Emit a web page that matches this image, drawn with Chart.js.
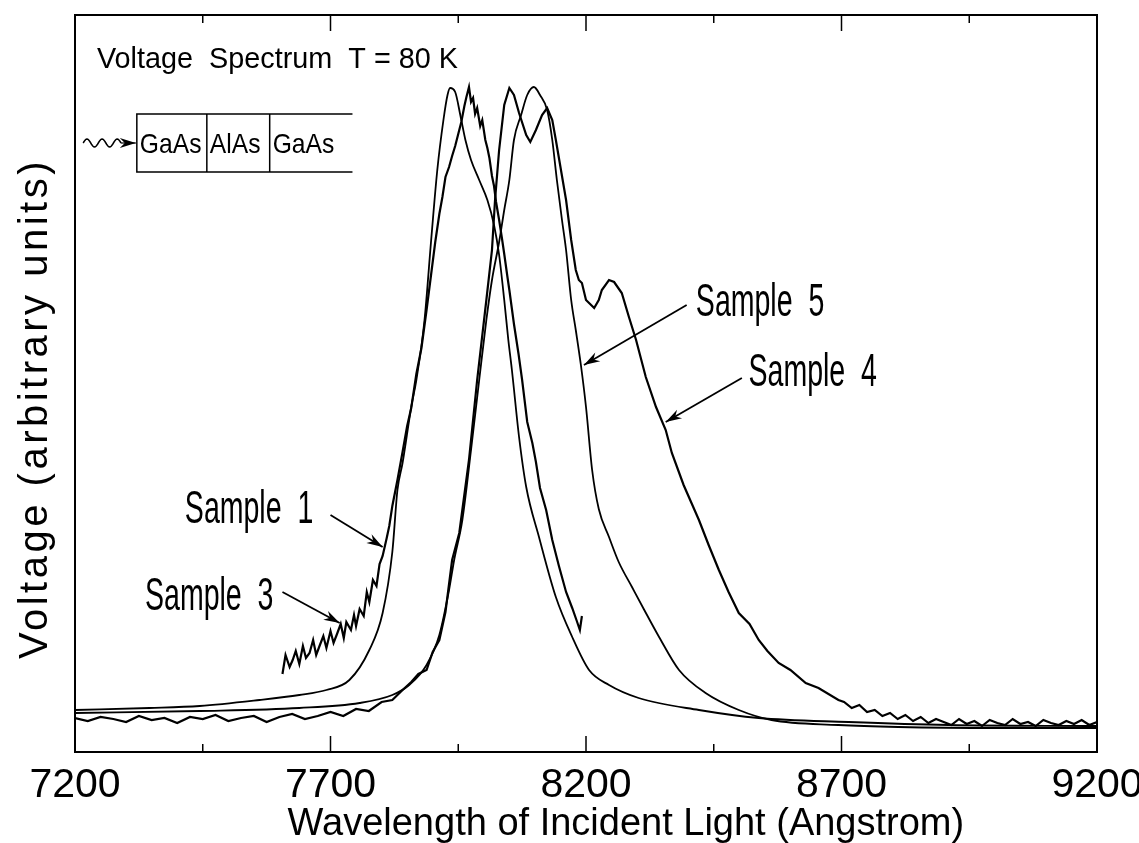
<!DOCTYPE html>
<html lang="en">
<head>
<meta charset="UTF-8">
<title>Voltage Spectrum T = 80 K</title>
<script src="https://cdn.jsdelivr.net/npm/chart.js"></script>
<style>
  html, body { margin: 0; padding: 0; background: #fff; }
</style>
</head>
<body>
<canvas id="spectrum" width="1139" height="843"></canvas>
<script>
// wavelength in Angstrom, voltage in arbitrary units (0 = bottom axis)
const sample1Wl = [
  7200, 7346, 7444, 7561, 7639, 7692, 7737, 7776, 7802, 7821,
  7831, 7841, 7858, 7868, 7884, 7897, 7909, 7921, 7929, 7934,
  7944, 7954, 7964, 7975, 7991, 8007, 8020, 8030, 8040, 8048,
  8055, 8069, 8083, 8108, 8141, 8173, 8206, 8245, 8303, 8421,
  8538, 8714, 8909, 9200];
const sample1V = [
  42, 44, 46, 52, 57, 62, 72, 102, 139, 200,
  262, 289, 345, 372, 432, 512, 582, 632, 657, 664,
  660, 637, 612, 592, 572, 552, 527, 497, 452, 412,
  382, 315, 265, 215, 155, 115, 82, 67, 54, 42,
  34, 30, 27, 26];

const sample3Wl = [
  7606, 7612, 7620, 7626, 7632, 7639, 7646, 7652, 7659, 7666,
  7672, 7680, 7686, 7692, 7700, 7706, 7712, 7720, 7726, 7731,
  7740, 7746, 7750, 7757, 7765, 7771, 7776, 7783, 7790, 7796,
  7802, 7810, 7815, 7821, 7831, 7841, 7850, 7858, 7868, 7878,
  7888, 7897, 7905, 7913, 7919, 7925, 7932, 7938, 7944, 7950,
  7956, 7962, 7966, 7971, 7975, 7979, 7983, 7987, 7993, 7997,
  8003, 8007, 8011, 8016, 8020, 8024, 8030, 8036, 8040, 8046,
  8050, 8059, 8068, 8075, 8085, 8095, 8102, 8110, 8122, 8134,
  8147, 8161, 8173, 8182, 8188, 8192];
const sample3V = [
  78, 97, 85, 92, 101, 88, 106, 94, 99, 112,
  97, 108, 116, 104, 121, 109, 117, 128, 114, 130,
  122, 137, 126, 143, 136, 160, 150, 172, 166, 188,
  196, 214, 226, 246, 272, 300, 326, 344, 378, 404,
  442, 478, 510, 538, 555, 575, 585, 596, 606, 618,
  630, 646, 655, 665, 650, 654, 638, 644, 626, 632,
  612, 604, 594, 576, 566, 550, 532, 512, 498, 476,
  462, 428, 398, 372, 330, 309, 290, 264, 242, 212,
  186, 160, 144, 131, 122, 136];

const sample4Wl = [
  7200, 7225, 7250, 7275, 7300, 7325, 7350, 7375, 7400, 7425,
  7450, 7475, 7500, 7525, 7550, 7575, 7600, 7625, 7650, 7675,
  7700, 7725, 7750, 7775, 7800, 7821, 7841, 7858, 7872, 7888,
  7900, 7913, 7925, 7938, 7952, 7971, 7987, 8005, 8016, 8022,
  8030, 8040, 8050, 8059, 8069, 8083, 8091, 8102, 8114, 8124,
  8134, 8141, 8151, 8161, 8171, 8180, 8186, 8192, 8200, 8206,
  8216, 8225, 8231, 8245, 8255, 8270, 8284, 8298, 8317, 8337,
  8356, 8368, 8391, 8421, 8440, 8460, 8479, 8499, 8520, 8538,
  8555, 8577, 8600, 8630, 8655, 8694, 8705, 8720, 8735, 8750,
  8765, 8780, 8795, 8810, 8825, 8840, 8855, 8870, 8885, 8900,
  8915, 8930, 8945, 8960, 8975, 8990, 9005, 9020, 9035, 9050,
  9065, 9080, 9095, 9110, 9125, 9140, 9155, 9170, 9185, 9200];
const sample4V = [
  34, 31, 35, 33, 30, 36, 32, 34, 29, 35,
  33, 37, 31, 34, 36, 30, 35, 38, 33, 36,
  40, 36, 43, 41, 50, 52, 62, 70, 78, 82,
  100, 112, 140, 192, 219, 292, 372, 452, 502, 552,
  602, 647, 664, 657, 639, 617, 610, 622, 637, 644,
  632, 612, 582, 552, 512, 482, 472, 469, 452, 449,
  444, 452, 462, 472, 470, 459, 435, 412, 375, 345,
  322, 299, 267, 232, 207, 182, 160, 139, 128, 112,
  101, 89, 82, 69, 64, 52, 50, 44, 47, 40,
  42, 36, 39, 33, 37, 31, 35, 29, 33, 30,
  27, 33, 28, 31, 26, 32, 29, 27, 33, 28,
  30, 26, 32, 29, 27, 31, 28, 32, 27, 30];

const sample5Wl = [
  7200, 7444, 7639, 7757, 7821, 7854, 7888, 7913, 7932, 7942,
  7958, 7975, 7991, 8005, 8016, 8030, 8040, 8050, 8059, 8073,
  8085, 8098, 8110, 8124, 8134, 8143, 8153, 8161, 8171, 8180,
  8190, 8200, 8212, 8225, 8245, 8264, 8290, 8313, 8343, 8382,
  8434, 8499, 8563, 8694, 8811, 9007, 9200];
const sample5V = [
  39, 41, 44, 49, 57, 67, 87, 117, 162, 192,
  232, 302, 372, 432, 472, 510, 542, 572, 612, 637,
  657, 665, 657, 642, 612, 572, 532, 502, 452, 422,
  387, 345, 282, 243, 215, 190, 165, 143, 115, 82,
  59, 42, 32, 27, 25, 24, 24];

const xTickValues = [7200, 7450, 7700, 7950, 8200, 8450, 8700, 8950, 9200];
const xTickLabels = ['7200', '', '7700', '', '8200', '', '8700', '', '9200'];

const FONT = "'Liberation Sans', Arial, sans-serif";

function points(xs, ys) {
  return xs.map((x, i) => ({ x: x, y: ys[i] }));
}

function arrow(ctx, x1, y1, x2, y2) {
  const a = Math.atan2(y2 - y1, x2 - x1);
  const c = Math.cos(a), s = Math.sin(a);
  ctx.beginPath();
  ctx.moveTo(x1, y1);
  ctx.lineTo(x2, y2);
  ctx.stroke();
  ctx.beginPath();
  ctx.moveTo(x2, y2);
  ctx.lineTo(x2 - 16 * c + 5 * s, y2 - 16 * s - 5 * c);
  ctx.lineTo(x2 - 11 * c, y2 - 11 * s);
  ctx.lineTo(x2 - 16 * c - 5 * s, y2 - 16 * s + 5 * c);
  ctx.closePath();
  ctx.fill();
}

function text(ctx, str, x, y, size, squeeze, spacing) {
  ctx.save();
  ctx.translate(x, y);
  ctx.scale(squeeze, 1);
  ctx.font = size + 'px ' + FONT;
  ctx.letterSpacing = spacing + 'px';
  ctx.textBaseline = 'alphabetic';
  ctx.fillText(str, 0, 0);
  ctx.restore();
}

// labels and arrows, placed in data units
const sampleNames = ['Sample  1', 'Sample  3', 'Sample  4', 'Sample  5'];
const nameAt = [[7415, 229], [7337, 142], [8518, 366], [8415, 436]];
const arrowFrom = [[7700, 237], [7606, 160], [8505, 374], [8397, 447]];
const arrowTo = [[7802, 205], [7718, 129], [8356, 330], [8196, 387]];
const layers = ['GaAs', 'AlAs', 'GaAs'];
const layerEdges = [7321, 7458, 7581, 7743];

const frame = {
  id: 'frame',
  afterDatasetsDraw(chart) {
    const { ctx, chartArea: a, scales: { x, y } } = chart;
    ctx.save();
    ctx.strokeStyle = '#000';
    ctx.fillStyle = '#000';
    ctx.lineWidth = 2;
    ctx.strokeRect(a.left, a.top, a.right - a.left, a.bottom - a.top);

    ctx.lineWidth = 1.5;
    xTickValues.forEach((v, i) => {
      const px = x.getPixelForValue(v);
      const len = xTickLabels[i] ? 16 : 8;
      ctx.beginPath();
      ctx.moveTo(px, a.bottom); ctx.lineTo(px, a.bottom - len);
      ctx.moveTo(px, a.top); ctx.lineTo(px, a.top + len);
      ctx.stroke();
    });

    // heading
    text(ctx, 'Voltage  Spectrum  T = 80 K', x.getPixelForValue(7243), y.getPixelForValue(684), 30, 0.96, 0);

    // GaAs / AlAs / GaAs stack
    const top = y.getPixelForValue(638), bot = y.getPixelForValue(580);
    const l = x.getPixelForValue(layerEdges[0]), r = x.getPixelForValue(layerEdges[3]);
    ctx.lineWidth = 1.5;
    ctx.beginPath();
    ctx.moveTo(r, top); ctx.lineTo(l, top); ctx.lineTo(l, bot); ctx.lineTo(r, bot);
    [1, 2].forEach(k => {
      const px = x.getPixelForValue(layerEdges[k]);
      ctx.moveTo(px, top); ctx.lineTo(px, bot);
    });
    ctx.stroke();
    layers.forEach((name, k) => {
      text(ctx, name, x.getPixelForValue(layerEdges[k]) + 3, y.getPixelForValue(599), 28, 0.88, 0);
    });

    // incoming light
    const wy = y.getPixelForValue(609);
    const w0 = x.getPixelForValue(7216), w1 = x.getPixelForValue(7290);
    ctx.beginPath();
    ctx.moveTo(w0, wy);
    for (let t = 0; t <= 1.0001; t += 0.02) {
      ctx.lineTo(w0 + t * (w1 - w0), wy - 4 * Math.sin(t * Math.PI * 5));
    }
    ctx.stroke();
    ctx.lineWidth = 1.2;
    arrow(ctx, w1, wy, l - 1, wy);

    // sample labels
    ctx.lineWidth = 1.8;
    sampleNames.forEach((name, k) => {
      text(ctx, name, x.getPixelForValue(nameAt[k][0]), y.getPixelForValue(nameAt[k][1]), 46, 0.62, 0);
      arrow(ctx, x.getPixelForValue(arrowFrom[k][0]), y.getPixelForValue(arrowFrom[k][1]),
        x.getPixelForValue(arrowTo[k][0]), y.getPixelForValue(arrowTo[k][1]));
    });

    // axis titles (the horizontal one sits right of the plot centre in the original)
    ctx.font = '38px ' + FONT;
    ctx.textAlign = 'center';
    ctx.textBaseline = 'alphabetic';
    ctx.fillText('Wavelength of Incident Light (Angstrom)', x.getPixelForValue(8278), 835);

    ctx.save();
    ctx.translate(47, (a.top + a.bottom) / 2 + 25);
    ctx.rotate(-Math.PI / 2);
    ctx.font = '40px ' + FONT;
    ctx.letterSpacing = '3.5px';
    ctx.fillText('Voltage (arbitrary units)', 0, 0);
    ctx.restore();
    ctx.restore();
  }
};

const smooth = { borderColor: '#000', borderWidth: 1.8, pointRadius: 0, cubicInterpolationMode: 'monotone', fill: false };
const noisy = { borderColor: '#000', borderWidth: 2.2, pointRadius: 0, tension: 0, fill: false };

new Chart(document.getElementById('spectrum'), {
  type: 'line',
  data: {
    datasets: [
      Object.assign({ label: 'Sample 1', data: points(sample1Wl, sample1V) }, smooth),
      Object.assign({ label: 'Sample 3', data: points(sample3Wl, sample3V) }, noisy),
      Object.assign({ label: 'Sample 4', data: points(sample4Wl, sample4V) }, noisy),
      Object.assign({ label: 'Sample 5', data: points(sample5Wl, sample5V) }, smooth)
    ]
  },
  options: {
    responsive: false,
    animation: false,
    layout: { padding: { top: 15, right: 42, left: 0, bottom: 0 } },
    plugins: { legend: { display: false }, tooltip: { enabled: false } },
    scales: {
      x: {
        type: 'linear',
        min: 7200,
        max: 9200,
        grid: { display: false, drawTicks: false },
        border: { display: false },
        afterBuildTicks: s => { s.ticks = xTickValues.map(v => ({ value: v })); },
        afterFit: s => { s.height = 91; s.paddingLeft = 0; s.paddingRight = 0; },
        ticks: {
          autoSkip: false,
          maxRotation: 0,
          padding: 9,
          color: '#000',
          font: { family: FONT, size: 41 },
          callback: (v, i) => xTickLabels[i]
        },
        title: { display: false }
      },
      y: {
        min: 0,
        max: 737,
        grid: { display: false, drawTicks: false },
        border: { display: false },
        ticks: { display: false },
        afterFit: s => { s.width = 75; }
      }
    }
  },
  plugins: [frame]
});
</script>
</body>
</html>
